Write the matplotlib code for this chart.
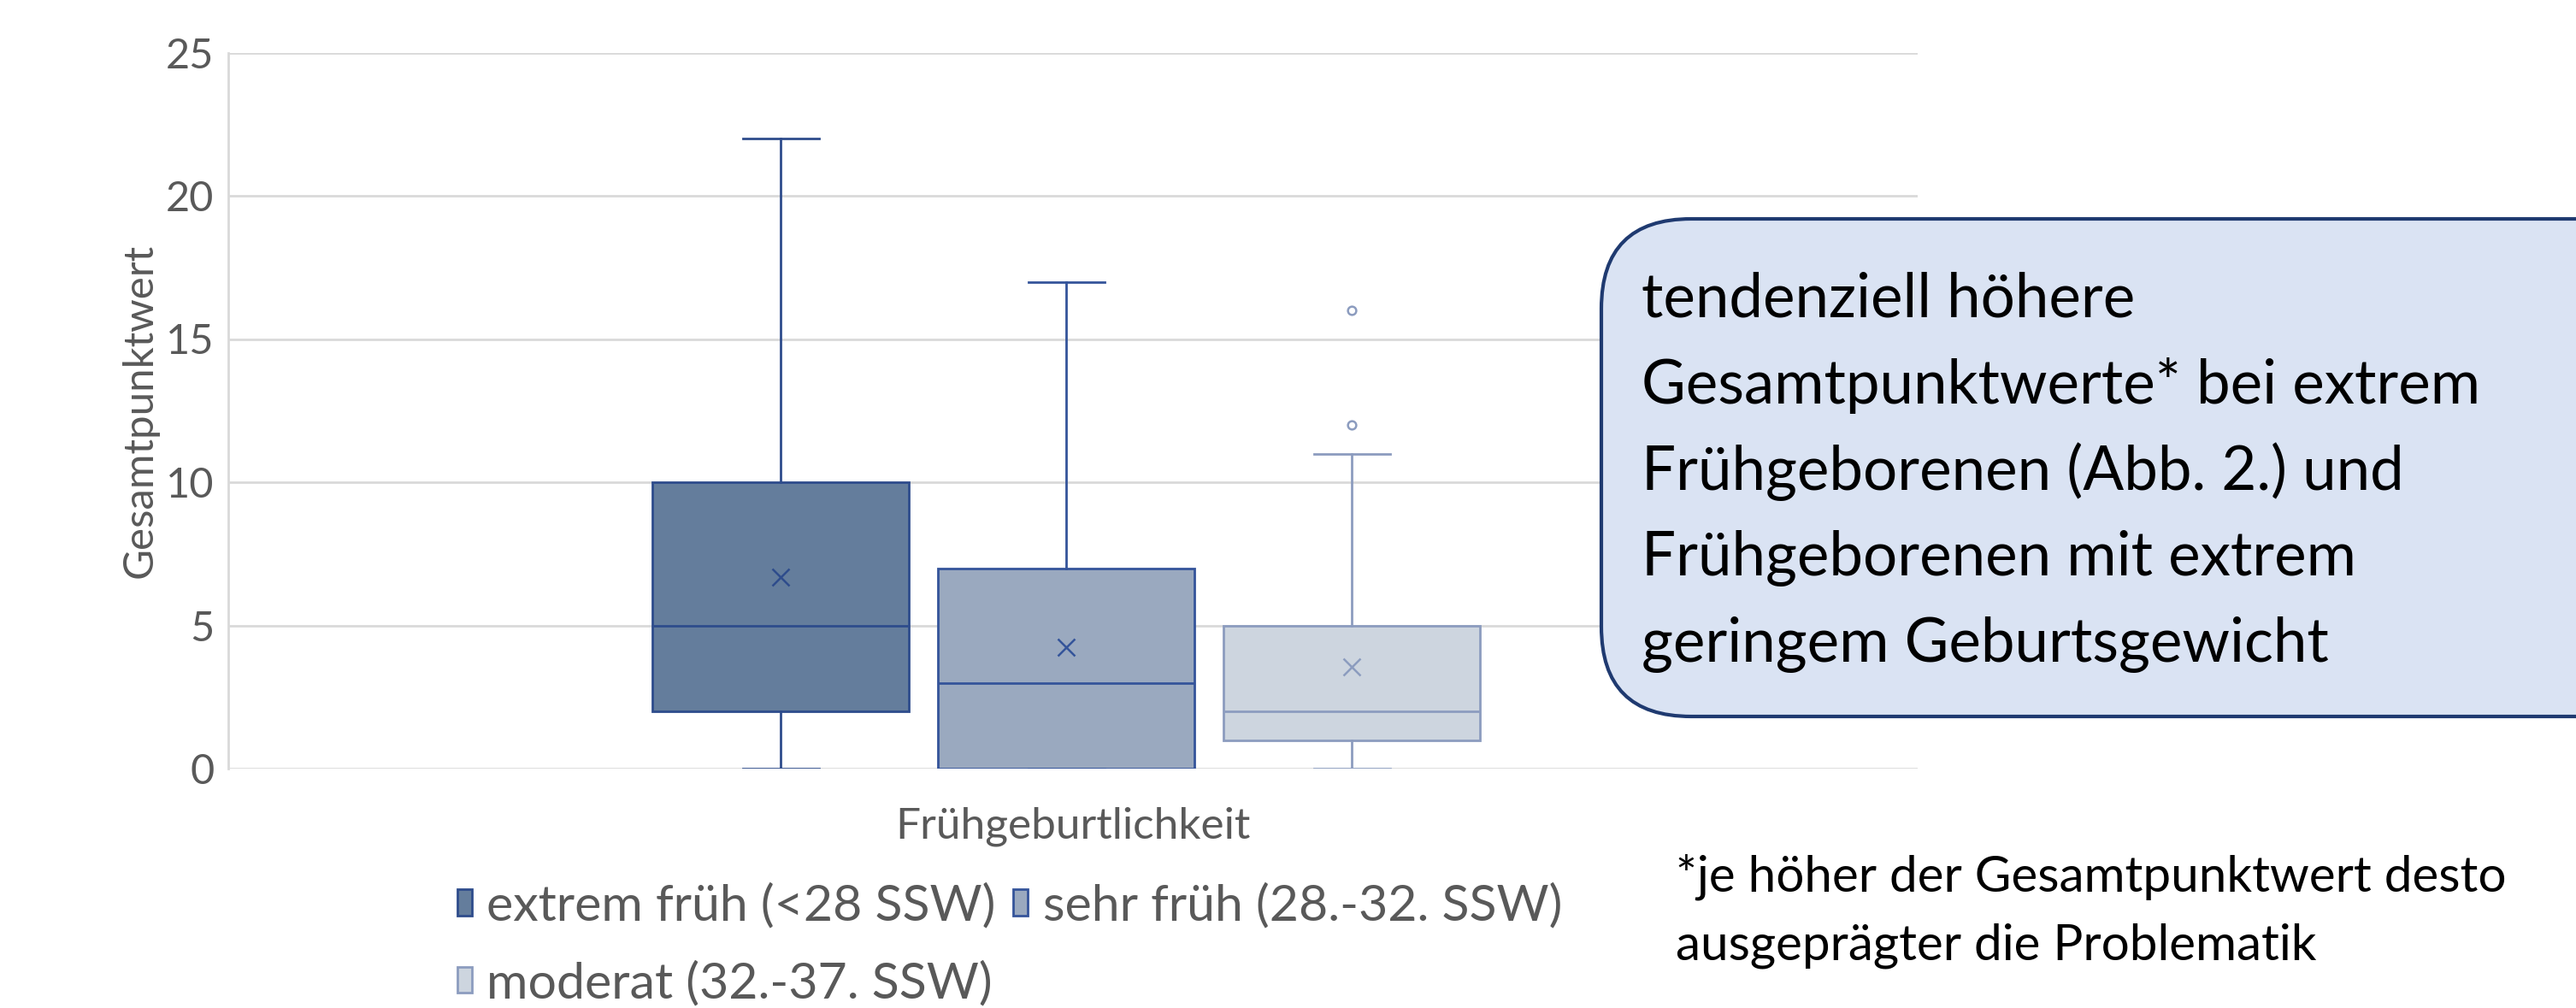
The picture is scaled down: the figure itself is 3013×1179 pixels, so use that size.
import matplotlib
matplotlib.use("Agg")
import matplotlib.pyplot as plt
from matplotlib.patches import FancyBboxPatch, Patch

plt.rcParams['font.family'] = ['Lato', 'DejaVu Sans']

# data
groups = ["extrem früh (<28 SSW)", "sehr früh (28.-32. SSW)", "moderat (32.-37. SSW)"]
whis_lo = [0, 0, 0]
q1 = [2, 0, 1]
median = [5, 3, 2]
q3 = [10, 7, 5]
whis_hi = [22, 17, 11]
means = [6.7, 4.25, 3.55]
outliers = [[], [], [12, 16]]
y_ticks = [0, 5, 10, 15, 20, 25]

fills = ["#647d9c", "#9aa9bf", "#cdd5df"]
edges = ["#2e4c8c", "#34549a", "#8c9cbf"]

box_text = ["tendenziell höhere",
            "Gesamtpunktwerte* bei extrem",
            "Frühgeborenen (Abb. 2.) und",
            "Frühgeborenen mit extrem",
            "geringem Geburtsgewicht"]
note_text = ["*je höher der Gesamtpunktwert desto",
             "ausgeprägter die Problematik"]

W, H = 3013, 1179
fig = plt.figure(figsize=(W / 100, H / 100), dpi=100)

ax = fig.add_axes([267 / W, 1 - 899 / H, (2243 - 267) / W, (899 - 61.5) / H])

positions = [0.496 + (i - 1) * 0.169 for i in range(len(groups))]
handles = []
for i, name in enumerate(groups):
    stats = [dict(med=median[i], q1=q1[i], q3=q3[i], whislo=whis_lo[i],
                  whishi=whis_hi[i], mean=means[i], fliers=outliers[i])]
    ec = edges[i]
    ax.bxp(stats, positions=[positions[i]], widths=0.152, patch_artist=True,
           showmeans=True, manage_ticks=False,
           boxprops=dict(facecolor=fills[i], edgecolor=ec, linewidth=2),
           medianprops=dict(color=ec, linewidth=2),
           whiskerprops=dict(color=ec, linewidth=2),
           capprops=dict(color=ec, linewidth=2),
           capwidths=0.045,
           meanprops=dict(marker="x", markeredgecolor=ec, markersize=14, markeredgewidth=1.8),
           flierprops=dict(marker="o", markerfacecolor="none", markeredgecolor=ec,
                           markersize=7, markeredgewidth=1.8),
           zorder=3)
    handles.append(Patch(facecolor=fills[i], edgecolor=ec, linewidth=2, label=name))

ax.set_xlim(0, 1)
ax.set_ylim(0, 25)
ax.set_yticks(y_ticks)
ax.set_xticks([])
ax.grid(axis="y", color="#d9d9d9", linewidth=2, zorder=0)
ax.set_axisbelow(True)
for s in ["top", "right", "bottom"]:
    ax.spines[s].set_visible(False)
ax.spines["left"].set_color("#d9d9d9")
ax.spines["left"].set_linewidth(2)
ax.tick_params(axis="y", length=0, labelsize=35, labelcolor="#595959", pad=12)
ax.set_ylabel("Gesamtpunktwert", fontsize=35.5, color="#595959", labelpad=6)

# overlay in pixel coordinates for annotations
ov = fig.add_axes([0, 0, 1, 1], facecolor="none")
ov.set_xlim(0, W)
ov.set_ylim(H, 0)
ov.axis("off")

ov.text(1255, 967, "Frühgeburtlichkeit", fontsize=37, color="#595959", ha="center", va="center")

leg = fig.legend([handles[0], handles[2], handles[1]],
                 [groups[0], groups[2], groups[1]],
                 ncol=2, loc="upper left", bbox_to_anchor=(535 / W, 1 - 1033 / H),
                 frameon=False, fontsize=42.5, handlelength=0.28, handleheight=0.42,
                 handletextpad=0.3, columnspacing=0.35, labelspacing=0.62,
                 borderaxespad=0, borderpad=0)
for t in leg.get_texts():
    t.set_color("#595959")

box = FancyBboxPatch((1873, 256), 1250, 582, boxstyle="round,pad=0,rounding_size=105",
                     facecolor="#dae3f3", edgecolor="#1f3a70", linewidth=3)
ov.add_patch(box)
for k, line in enumerate(box_text):
    ov.text(1920, 350 + k * 101, line, fontsize=51, color="black", ha="left", va="center")

for k, line in enumerate(note_text):
    ov.text(1960, 1026 + k * 80, line, fontsize=42, color="black", ha="left", va="center")

fig.savefig("out.png", dpi=100)
